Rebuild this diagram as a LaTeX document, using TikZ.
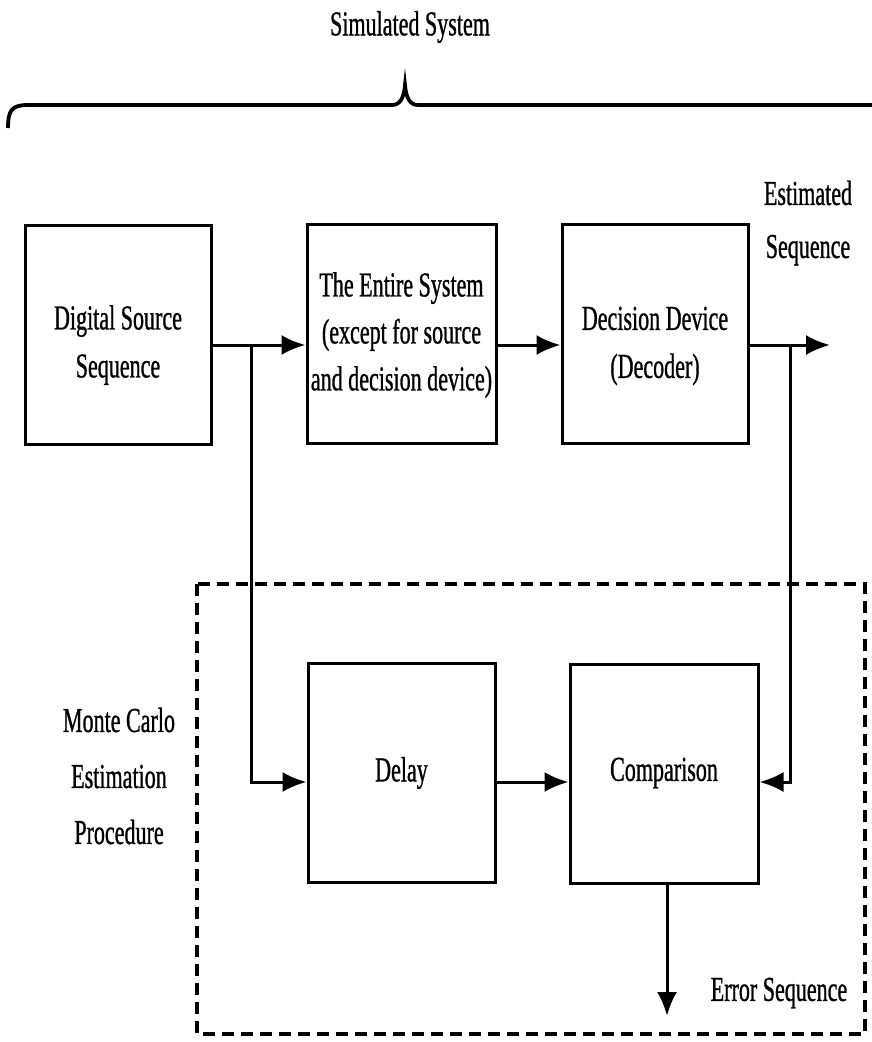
\documentclass[tikz,border=0pt]{standalone}
\usepackage{fontspec}
\setmainfont[FakeStretch=0.63,FakeBold=0.8]{Liberation Serif}
\usetikzlibrary{arrows.meta}
\begin{document}
\begin{tikzpicture}[x=1pt,y=-1pt,
  box/.style={draw,line width=3pt,inner sep=0pt,minimum width=#1,minimum height=219pt},
  txt/.style={align=center,inner sep=0pt,font=\fontsize{35}{48}\selectfont},
  arr/.style={line width=3pt,-{Latex[length=24pt,width=20pt]}},
  dbox/.style={line width=3.2pt,dash pattern=on 12pt off 7pt}]
\useasboundingbox (0,0) rectangle (872,1042);
% brace
\draw[line width=3.8pt] (8,128) .. controls (8,110) and (12,105) .. (28,105) -- (392,105)
  .. controls (400,105) and (404,98) .. (405,85) .. controls (406,98) and (410,105) .. (418,105) -- (874,105);
\node[txt] (simsys) at (410,27) {Simulated System};
% boxes
\node[box=186pt] (ds) at (118,335) {};
\node[box=189pt] (es) at (401.5,334) {};
\node[box=186pt] (dd) at (655,334) {};
\node[box=187pt] (delay) at (401.5,773) {};
\node[box=188pt] (comp) at (664,773.5) {};
\node[txt] (dst) at (118,345) {Digital Source\\Sequence};
\node[txt,font=\fontsize{35}{47}\selectfont] (est) at (401.5,335) {The Entire System\\(except for source\\and decision device)};
\node[txt] (ddt) at (655,346) {Decision Device\\(Decoder)};
\node[txt] (delt) at (401.5,773) {Delay};
\node[txt] (compt) at (664,773) {Comparison};
\node[txt,font=\fontsize{35}{53}\selectfont] (estseq) at (808,223) {Estimated\\Sequence};
\node[txt,font=\fontsize{35}{56}\selectfont] (mc) at (119,776) {Monte Carlo\\Estimation\\Procedure};
\node[txt] (errs) at (779,993) {Error Sequence};
% dashed region
\draw[dbox] (197,584) rectangle (865,1034);
% junctions
\coordinate (j1) at (251,345);
\coordinate (j2) at (790,345);
\coordinate (j3) at (251,782);
\coordinate (j4) at (790,782);
\coordinate (outend) at (830,345);
\coordinate (errend) at (667,1016);
% connectors
\draw[arr] (ds.east |- j1) -- (es.west |- j1);
\draw[arr] (es.east |- j1) -- (dd.west |- j1);
\draw[arr] (dd.east |- j1) -- (outend);
\draw[arr] (j1) -- (j3) -- (delay.west |- j3);
\draw[arr] (delay.east |- j3) -- (comp.west |- j3);
\draw[arr] (j2) -- (j4) -- (comp.east |- j4);
\draw[arr] (comp.south -| errend) -- (errend);
\end{tikzpicture}
\end{document}
